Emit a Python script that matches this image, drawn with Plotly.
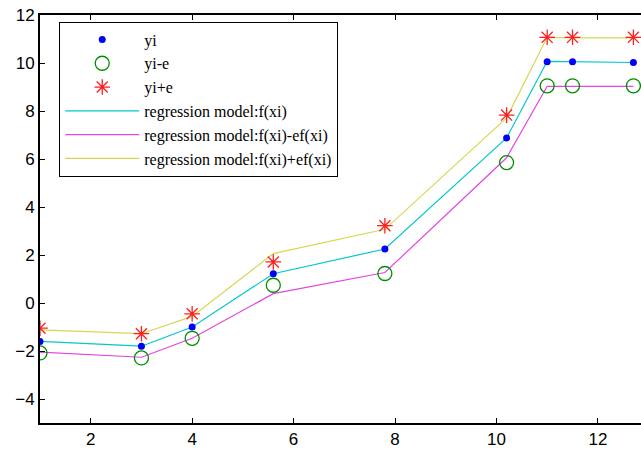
import plotly.graph_objects as go

x = [1, 3, 4, 5.6, 7.8, 10.2, 11, 11.5, 12.7]
yi = [-1.6, -1.8, -1.0, 1.22, 2.25, 6.88, 10.05, 10.05, 10.02]
yi_minus_e = [-2.08, -2.29, -1.47, 0.74, 1.23, 5.85, 9.05, 9.05, 9.05]
yi_plus_e = [-1.05, -1.28, -0.45, 1.71, 3.22, 7.83, 11.07, 11.07, 11.07]
f_xi = [-1.6, -1.8, -1.0, 1.22, 2.25, 6.88, 10.07, 10.05, 10.02]
f_minus = [-2.05, -2.26, -1.47, 0.39, 1.27, 6.05, 9.03, 9.03, 9.03]
f_plus = [-1.12, -1.28, -0.56, 2.06, 3.07, 7.71, 11.07, 11.05, 11.05]

x_ticks = [2, 4, 6, 8, 10, 12]
y_ticks = [-4, -2, 0, 2, 4, 6, 8, 10, 12]

fig = go.Figure()
# lines first (drawn under markers)
fig.add_trace(go.Scatter(x=x, y=f_xi, mode="lines", name="regression model:f(xi)",
                         line=dict(color="rgb(0,200,205)", width=1.2), legendrank=4))
fig.add_trace(go.Scatter(x=x, y=f_minus, mode="lines", name="regression model:f(xi)-ef(xi)",
                         line=dict(color="rgb(225,70,225)", width=1.2), legendrank=5))
fig.add_trace(go.Scatter(x=x, y=f_plus, mode="lines", name="regression model:f(xi)+ef(xi)",
                         line=dict(color="rgb(215,215,80)", width=1.2), legendrank=6))
fig.add_trace(go.Scatter(x=x, y=yi, mode="markers", name="yi",
                         marker=dict(symbol="circle", size=7, color="rgb(0,0,255)"), legendrank=1))
fig.add_trace(go.Scatter(x=x, y=yi_minus_e, mode="markers", name="yi-e",
                         marker=dict(symbol="circle-open", size=14, color="rgb(0,140,0)",
                                     line=dict(color="rgb(0,140,0)", width=1.3)), legendrank=2))
fig.add_trace(go.Scatter(x=x, y=yi_plus_e, mode="markers", name="yi+e",
                         marker=dict(symbol="asterisk-open", size=13, color="rgb(255,30,30)",
                                     line=dict(color="rgb(255,30,30)", width=1.3)), legendrank=3))

fig.update_layout(
    width=641, height=453,
    margin=dict(l=40, r=0, t=15, b=30),
    paper_bgcolor="white", plot_bgcolor="white",
    showlegend=True,
    legend=dict(x=0.032, y=0.984, xanchor="left", yanchor="top",
                bgcolor="white", bordercolor="black", borderwidth=1,
                font=dict(family="Liberation Serif", size=16, color="black"),
                itemwidth=74, traceorder="normal"),
    xaxis=dict(range=[1, 12.85], tickvals=x_ticks, ticks="inside", ticklen=5,
               tickcolor="black", showline=True, linecolor="black", linewidth=2,
               mirror="ticks", showgrid=False, zeroline=False,
               tickfont=dict(family="Liberation Sans", size=17, color="black")),
    yaxis=dict(range=[-5, 12], tickvals=y_ticks, ticks="inside", ticklen=5,
               tickcolor="black", showline=True, linecolor="black", linewidth=2,
               mirror=False, showgrid=False, zeroline=False,
               tickfont=dict(family="Liberation Sans", size=17, color="black")),
)

fig.write_html("out.html", config={"displayModeBar": False},
               post_script="document.body.style.margin='0';document.body.style.overflow='hidden';")
